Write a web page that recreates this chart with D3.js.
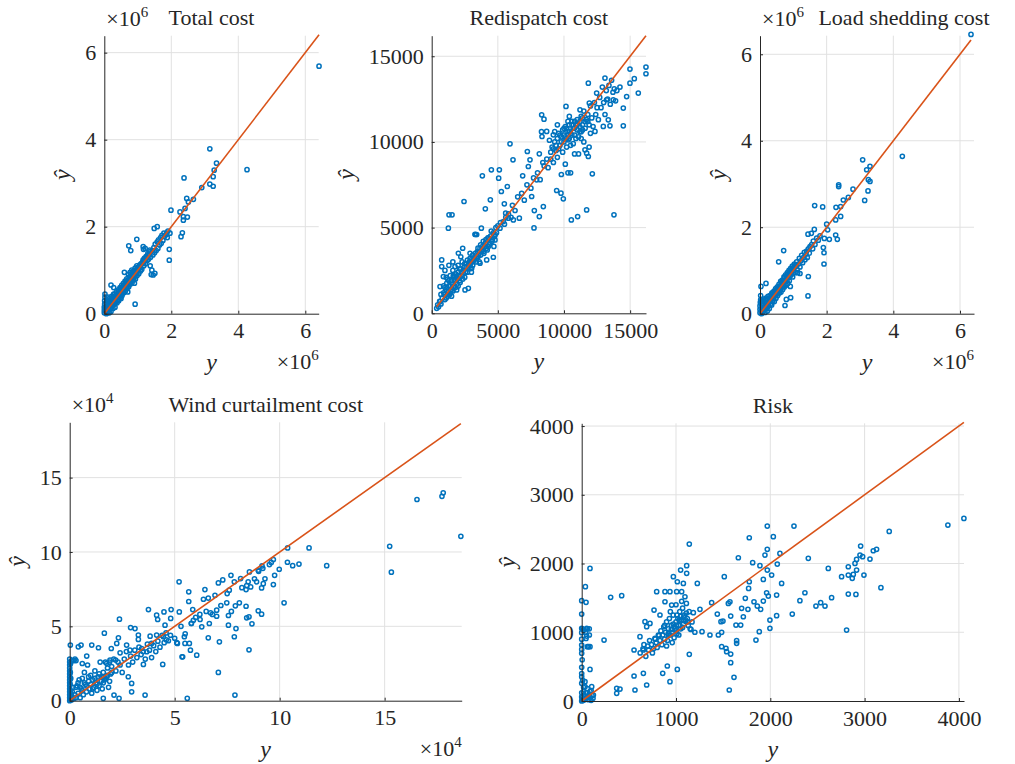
<!DOCTYPE html>
<html lang="en">
<head>
<meta charset="UTF-8">
<title>Predicted vs actual</title>
<script src="https://d3js.org/d3.v7.min.js"></script>
<style>
  body { margin: 0; background: #fff; }
</style>
</head>
<body>
<svg id="chart" width="1015" height="764"></svg>
<script>
// [y, yhat] pairs, in the units shown on each axis (x10^6, x10^4 where marked)
const totalCost = [
  [0,0.02],[0,0.08],[0,0.15],[0.01,0.22],[0.01,0.3],[0.02,0.38],[0.03,0.12],[0.04,0.05],[0.05,0.25],[0.06,0],
  [0.07,0.15],[0.08,0.32],[0.1,0.05],[0.1,0.2],[0.12,0.1],[0.13,0.28],[0.15,0.02],[0.15,0.18],[0.17,0.36],[0.18,0.12],
  [0.2,0.25],[0.2,0.05],[0.22,0.4],[0.23,0.18],[0.25,0.3],[0.26,0.12],[0.28,0.45],[0.3,0.22],[0.3,0.35],[0.32,0.15],
  [0.34,0.42],[0.35,0.3],[0.37,0.5],[0.38,0.25],[0.4,0.38],[0.42,0.55],[0.43,0.3],[0.45,0.45],[0.47,0.6],[0.48,0.38],
  [0.5,0.5],[0.52,0.65],[0.53,0.42],[0.55,0.55],[0.57,0.7],[0.58,0.48],[0.6,0.62],[0.62,0.75],[0.63,0.52],[0.65,0.68],
  [0.67,0.8],[0.68,0.58],[0.7,0.72],[0.72,0.9],[0.73,0.62],[0.75,0.78],[0.77,0.95],[0.78,0.68],[0.8,0.82],[0.82,1.0],
  [0.83,0.72],[0.85,0.88],[0.87,0.98],[0.88,0.78],[0.9,0.92],[0.92,1.05],[0.93,0.8],[0.95,0.95],[0.97,1.1],[0.98,0.88],
  [1.0,1.0],[1.03,0.92],[1.05,1.08],[1.08,0.98],[1.1,1.15],[1.12,1.02],[1.15,1.2],[1.17,1.48],[1.18,1.1],[1.2,1.28],
  [1.22,1.5],[1.23,1.15],[1.25,1.32],[1.28,1.22],[1.3,1.38],[1.32,1.25],[1.35,1.42],[1.37,1.1],[1.38,1.3],[1.4,0.9],
  [1.42,1.0],[1.43,1.45],[1.45,1.35],[1.48,1.52],[1.5,1.4],[1.52,1.6],[1.55,1.45],[1.58,1.65],[1.6,1.5],[1.62,1.7],
  [1.65,1.58],[1.68,1.75],[1.7,1.62],[1.72,1.8],[1.75,1.68],[1.78,1.85],[1.8,1.78],[1.85,1.82],[1.9,1.9],[1.88,1.75],
  [0.02,0.45],[0.05,0.1],[0.08,0.02],[0.11,0.38],[0.14,0.08],[0.16,0.26],[0.19,0.3],[0.21,0.14],[0.24,0.22],[0.27,0.38],
  [0.29,0.28],[0.31,0.45],[0.33,0.26],[0.36,0.4],[0.39,0.46],[0.41,0.32],[0.44,0.52],[0.46,0.4],[0.49,0.58],[0.51,0.44],
  [0.54,0.6],[0.56,0.5],[0.59,0.66],[0.61,0.56],[0.64,0.72],[0.66,0.62],[0.69,0.76],[0.71,0.66],[0.74,0.84],[0.76,0.72],
  [0.79,0.86],[0.81,0.76],[0.84,0.92],[0.86,0.82],[0.89,0.96],[0.91,0.86],[0.94,1.0],[0.96,0.92],[0.99,1.06],[1.02,1.04],
  [1.06,1.12],[1.09,1.06],[1.13,1.16],[1.16,1.24],[1.19,1.2],[1.24,1.26],[1.27,1.3],[1.31,1.34],[1.34,1.36],[1.36,1.46],
  [6.41,5.69],[4.26,3.31],[3.15,3.79],[3.35,3.46],[3.28,3.3],[3.25,3.15],[3.15,2.98],[3.25,2.93],[2.91,2.9],[2.66,2.63],
  [2.46,2.65],[2.51,2.57],[2.41,2.42],[2.26,2.34],[2.36,2.23],[2.48,2.22],[2.36,2.15],[2.38,3.12],[1.99,2.38],[2.33,1.86],
  [2.29,1.77],[1.96,1.85],[1.86,1.85],[1.94,1.48],[1.94,1.23],[1.58,2.0],[1.49,1.96],[0.97,1.71],[0.73,1.56],[0.79,1.45],
  [0.92,0.22],[0.2,0.66],[1.46,0.89],[1.51,0.93],[1.16,1.54],[0.28,0.6],[0.6,0.95],[0.5,0.35],[0.7,0.5],[0.9,0.7]
];

const redispatchCost = [
  [378,292],[450,500],[520,380],[600,700],[630,681],[700,550],[756,3115],[756,2726],[630,1557],[882,2141],
  [1134,1752],[1386,1168],[1889,1363],[2141,2141],[2015,3504],[2343,3797],[2897,3504],[2771,1460],[2519,1363],[3023,2628],
  [3653,2920],[3904,3602],[4282,3894],[4660,3271],[4786,4283],[5164,4965],[5416,5354],[5794,5549],[4156,3115],[3400,3212],
  [1637,2141],[1763,2726],[800,900],[900,1200],[1000,800],[1000,1500],[1100,1300],[1200,1000],[1200,2000],[1300,1600],
  [1400,2200],[1500,1400],[1500,1900],[1600,2500],[1700,1600],[1700,2000],[1800,2300],[1900,1700],[2000,2400],[2000,2800],
  [2100,1900],[2200,2600],[2300,2200],[2300,3000],[2400,2500],[2500,2900],[2500,2100],[2600,2700],[2700,3100],[2700,2400],
  [2800,2800],[2900,3200],[2900,2600],[3000,3000],[3100,3400],[3100,2800],[3200,3100],[3300,3500],[3300,4600],[3400,4600],
  [3500,3300],[3500,3800],[3600,3600],[3700,3400],[3700,4000],[3800,3700],[3900,4200],[4000,3900],[4100,4300],[4200,3700],
  [4300,4400],[4400,4100],[4500,4800],[4600,4300],[4700,3900],[4800,4600],[4900,4700],[5000,5100],[5200,5300],[5500,5200],
  [5600,5600],[5800,5800],[6000,5600],[6100,6300],[6300,6000],
  [1000,1100],[1100,900],[1150,1500],[1250,1250],[1300,1900],[1350,1100],[1400,1600],[1450,1300],[1550,1700],[1600,1300],
  [1650,2200],[1750,1900],[1800,1500],[1850,2100],[1950,2000],[2050,2200],[2100,2600],[2150,1800],[2250,2400],[2350,2000],
  [2450,2700],[2550,2400],[2650,2900],[2750,2600],[2850,3000],[2950,2900],[3050,3200],[3150,3100],[3250,3300],[3350,3000],
  [3450,3600],[3550,3400],[3650,3800],[3750,3600],[3850,3900],[3950,3500],[4050,4100],[4150,3800],[4250,4400],[4350,4000],
  [4450,4500],[4550,4200],[4650,4700],[4750,4500],[4850,5000],[900,1600],[1100,2100],[700,1100],[1000,2500],[1300,2800],
  [1600,3000],[2200,3300],[1500,1000],[2000,1600],[3000,2400],[3600,3000],
  [16198,14370],[16198,13980],[15618,12850],[15316,13690],[14988,14250],[14988,13430],[14736,12650],[14484,11975],[14484,10940],[14232,13200],
  [13779,5745],[13476,10940],[13098,13725],[11713,6035],[11033,5646],[10555,5452],[12142,8138],[11713,9346],[9950,6678],[9773,7009],
  [9446,7165],[8313,11585],[8489,11331],[7733,4984],[7758,5997],[8136,5646],[8439,6230],[5920,9891],[6146,8956],[5114,8372],
  [5063,7886],[4509,8372],[3829,8022],[4433,6620],[4055,6094],[2443,6523],[1310,5744],[1537,5744],[1260,4965],[3275,4614],
  [3753,4965],[5265,7107],[5718,7399],[5491,6386],[5592,5841],[6172,5452],[6626,5549],[7557,6815],[7935,7788],[6877,8022],
  [7305,8567],[7431,8956],[7230,9443],[8136,9306],[8338,10319],[8690,10611],[9194,10416],[10328,10125],[10152,12072],[10404,11487],
  [11210,11877],[11840,13430],[11915,12266],[12469,12850],[11587,9540],[11840,9151],[12343,10611],[12973,10903],[13350,11292],[13224,12461],
  [13728,12461],[6500,6800],[6800,7000],[7000,6600],[7200,7500],[7500,7300],[7700,7900],[8000,8200],[8200,7800],[8400,8800],
  [8500,8600],[8700,9000],[8800,8500],[9000,9400],[9000,9000],[9100,9700],[9200,8800],[9300,10000],[9400,9500],[9500,10200],
  [9500,9100],[9600,10500],[9700,9800],[9800,10300],[9900,10700],[9900,9400],[10000,10000],[10100,10900],[10100,10300],[10200,9700],
  [10300,10600],[10400,11000],[10400,10200],[10500,10500],[10600,11200],[10700,10800],[10700,9900],[10800,10400],[10900,11000],[11000,10700],
  [11000,11300],[11100,10300],[11200,10900],[11300,11500],[11300,10600],[11400,11000],[11500,11800],[11600,10800],[11700,11300],[11800,11600],
  [11900,11000],[12000,12100],[12000,10500],[12100,11400],[12200,10900],[12300,12300],[12400,11600],[12500,12000],[12600,11300],[12700,12600],
  [12800,12000],[12900,13200],[13000,12300],[13100,11600],[13200,13000],[13300,12500],[13400,13300],[13500,12200],[13600,13600],[13700,12900],
  [13800,13100],[13900,12400],[14000,13000],[9800,8100],[10100,8700],[10300,8200],[10500,8200],[10800,9300],[11100,9300],[11500,10000],
  [11900,9700],[9500,11000],[9300,10600],[8900,10100],[8300,10600],
  [9200,9600],[9400,9800],[9600,9600],[9800,10000],[10000,10400],[10200,10200],[10200,10800],[10400,10600],[10600,10400],[10600,11000],
  [10800,10800],[10800,11200],[11000,11000],[11200,11200],[11200,10600],[11400,11400],[11400,10700],[11600,11200],[11800,11200],[10500,9800],
  [10900,10200],[11300,10200],[9700,10400],[10000,10800],[10300,11200]
];

const loadShedCost = [
  [0,0.02],[0,0.1],[0,0.18],[0.01,0.26],[0.02,0.32],[0.03,0.06],[0.04,0.22],[0.05,0],[0.06,0.14],[0.08,0.3],
  [0.09,0.05],[0.1,0.2],[0.12,0.1],[0.13,0.28],[0.15,0.03],[0.16,0.18],[0.18,0.36],[0.19,0.12],[0.21,0.25],[0.22,0.06],
  [0.24,0.4],[0.25,0.18],[0.27,0.3],[0.28,0.12],[0.3,0.42],[0.31,0.22],[0.33,0.35],[0.35,0.2],[0.36,0.48],[0.38,0.3],
  [0.4,0.4],[0.42,0.52],[0.43,0.28],[0.45,0.45],[0.47,0.58],[0.48,0.36],[0.5,0.5],[0.52,0.62],[0.53,0.42],[0.55,0.55],
  [0.57,0.68],[0.58,0.48],[0.6,0.62],[0.62,0.75],[0.63,0.5],[0.65,0.68],[0.67,0.78],[0.68,0.56],[0.7,0.72],[0.72,0.85],
  [0.73,0.62],[0.75,0.78],[0.77,0.9],[0.78,0.66],[0.8,0.82],[0.82,0.95],[0.83,0.7],[0.85,0.88],[0.87,1.0],[0.88,0.76],
  [0.9,0.92],[0.92,1.05],[0.95,0.95],[0.97,1.1],[0.98,0.85],[1.0,1.0],[1.03,1.15],[1.05,0.95],[1.08,1.1],[1.1,1.2],
  [1.12,1.02],[1.15,1.15],[1.18,1.28],[1.2,1.08],[1.22,1.22],[1.25,1.35],[1.28,1.18],[1.3,1.3],[1.33,1.42],[1.35,1.25],
  [1.38,1.38],[1.4,1.45],[1.42,1.3],[1.45,1.5],[1.48,1.4],[1.5,1.55],[1.55,1.6],[1.58,1.5],[1.6,1.68],[1.65,1.6],
  [1.7,1.75],[1.75,1.7],[1.8,1.8],
  [0.02,0.42],[0.05,0.3],[0.07,0.08],[0.11,0.34],[0.14,0.14],[0.17,0.24],[0.2,0.32],[0.23,0.16],[0.26,0.26],[0.29,0.36],
  [0.32,0.28],[0.34,0.44],[0.37,0.36],[0.39,0.46],[0.41,0.34],[0.44,0.5],[0.46,0.42],[0.49,0.56],[0.51,0.46],[0.54,0.6],
  [0.56,0.52],[0.59,0.64],[0.61,0.56],[0.64,0.72],[0.66,0.62],[0.69,0.76],[0.71,0.66],[0.74,0.84],[0.76,0.74],[0.79,0.86],
  [0.81,0.76],[0.84,0.92],[0.86,0.84],[0.89,0.98],[0.91,0.88],[0.94,1.02],[0.96,0.92],[0.99,1.06],[1.02,1.04],[1.06,1.12],
  [6.33,6.46],[4.27,3.64],[3.08,3.56],[3.2,3.33],[3.3,3.41],[3.25,3.1],[3.3,3.06],[3.24,2.84],[3.14,2.62],[2.36,2.98],
  [2.36,2.94],[2.79,2.88],[2.5,2.63],[2.65,2.69],[2.42,2.48],[2.28,2.46],[2.42,2.25],[2.27,2.17],[2.0,2.07],[2.03,1.94],
  [2.27,1.82],[2.32,1.72],[2.08,1.72],[1.93,1.74],[1.9,1.53],[1.92,1.41],[1.92,1.15],[1.64,2.5],[1.88,2.47],[1.63,1.95],
  [1.44,1.84],[1.54,1.86],[0.71,1.46],[0.56,1.2],[1.45,0.86],[1.44,0.41],[0.75,0.19],[0.79,0.33],[0.92,0.37],[0.91,0.63],
  [0.03,0.63],[0.18,0.7],[1.13,0.95],[1.2,0.93]
];

const windCost = [
  [0,0],[0,0.2],[0,0.4],[0,0.6],[0,0.8],[0,1.0],[0,1.2],[0,1.4],[0,1.6],[0,1.8],
  [0,2.0],[0,2.2],[0,2.4],[0,2.6],[0,2.8],[0.05,0.1],[0.05,0.5],[0.05,1.5],[0.1,0.3],[0.1,2.7],
  [0.15,0.9],[0.2,2.7],[0.25,2.8],[0.3,0.2],[0.35,1.0],[0.4,0.5],[0.45,1.4],[0.5,0.2],[0.55,0.8],[0.6,1.5],
  [0.65,0.4],[0.7,1.9],[0.75,1.1],[0.8,0.6],[0.85,2.4],[0.9,1.3],[0.95,0.8],[1.0,1.7],[1.05,0.5],[1.1,1.4],
  [1.15,0.9],[1.2,2.0],[1.25,1.2],[1.3,0.7],[1.35,1.6],[1.4,1.0],[1.45,2.6],[1.5,1.3],[1.55,0.8],[1.6,1.9],
  [1.65,1.4],[1.7,2.6],[1.75,1.6],[1.8,2.2],[1.85,0.9],[1.9,2.6],[1.95,1.8],[2.0,2.3],[2.1,2.8],[2.2,2.0],
  [2.3,2.6],[2.4,2.4],[2.5,1.9],[2.6,2.8],[2.7,3.3],[2.8,2.4],[2.9,3.0],[3.0,2.6],[3.1,3.4],[3.2,2.9],
  [3.3,3.6],[3.4,3.1],[3.5,3.3],[3.6,2.8],[3.7,3.8],[3.8,3.4],[3.9,2.9],[4.0,3.7],[4.1,3.3],[4.2,4.0],
  [4.3,3.6],[4.4,4.4],[4.5,3.9],[4.6,4.1],[4.8,4.4],[5.0,4.2],[5.1,3.9],[5.3,5.0],[5.5,4.5],[5.8,5.2],
  [6.0,5.6],[6.2,5.8],[6.5,6.0],[6.6,6.9],[6.8,5.8],[7.2,6.4],[7.5,7.2],[7.7,6.0],[8.2,7.6],[8.5,8.0],
  [8.8,8.2],[9.0,8.7],[9.2,8.9],[9.3,8.2],[9.6,9.3],
  [0.02,0.1],[0.02,0.3],[0.02,0.7],[0.02,1.1],[0.03,1.9],[0.04,2.5],[0.08,0.05],[0.12,0.6],[0.2,0.15],[0.25,0.4],
  [0.3,0.9],[0.4,1.2],[0.5,0.9],[0.6,0.7],[0.7,1.2],[0.8,1.0],[0.9,1.6],[1.0,1.1],[1.1,0.8],[1.2,1.5],
  [1.3,1.1],[1.4,1.8],[1.5,1.6],[1.6,1.2],[1.7,1.5],[1.8,1.7],[1.9,1.3],[2.0,1.9],[0.3,2.7],[0.6,2.5],
  [18.63,11.05],[17.79,13.98],[17.73,13.74],[16.54,13.53],[15.24,10.38],[15.32,8.64],[12.24,9.08],[11.4,10.27],[10.92,9.19],[10.62,9.08],
  [10.38,10.27],[10.37,9.31],[10.21,6.58],[9.98,8.84],[9.76,8.43],[9.7,7.81],[9.7,9.49],[9.51,9.15],[9.22,7.87],[9.14,7.58],
  [9.16,9.06],[8.98,8.77],[8.9,7.99],[9.14,5.82],[8.98,6.04],[8.68,5.17],[8.54,5.64],[8.43,5.57],[8.54,3.42],[8.56,8.66],
  [8.43,7.74],[8.4,7.47],[8.62,7.65],[8.4,6.35],[8.08,6.58],[7.89,6.38],[7.92,4.85],[7.84,4.3],[7.87,0.38],[7.68,8.43],
  [7.84,7.99],[8.14,8.21],[7.6,7.43],[7.56,5.73],[7.56,5.08],[7.48,6.58],[7.29,8.12],[7.08,7.92],[6.92,7.09],[7.0,6.09],
  [7.0,5.68],[7.13,3.96],[7.08,1.9],[6.71,5.91],[6.6,4.23],[6.65,5.19],[6.44,7.47],[6.37,6.82],[6.29,4.97],[6.05,3.06],
  [6.21,5.46],[5.89,5.41],[5.86,6.13],[5.75,3.4],[5.67,7.32],[5.67,6.67],[5.7,3.85],[5.79,5.19],[5.6,0.16],[5.46,4.3],
  [5.49,3.85],[5.38,2.95],[5.21,7.99],[5.22,5.97],[5.35,2.95],[5.13,3.85],[4.7,4.03],[4.81,5.53],[4.83,6.13],[4.59,4.56],
  [4.46,4.3],[4.43,2.44],[4.54,5.08],[4.49,5.97],[4.14,5.75],[4.19,5.46],[4.14,4.41],[3.75,6.13],[3.83,4.34],[3.9,3.85],
  [3.67,3.29],[3.59,0.38],[3.51,2.44],[3.43,3.51],[3.27,4.41],[3.27,4.12],[3.11,4.85],[2.9,4.92],[2.87,3.4],[2.79,1.61],
  [2.95,1.16],[2.95,0.6],[2.71,3.74],[2.4,3.22],[2.37,5.48],[2.32,4.23],[2.24,3.85],[2.19,2.73],[2.35,0.16],[2.11,0.38],
  [1.98,3.51],[1.92,2.73],[1.65,4.54],[1.76,2.51],[1.6,1.57],[1.6,0.16],[1.37,3.56],[0.81,3.0],[1.05,3.74],[0.54,3.74],
  [0.41,3.62],[0.03,3.74]
];

const riskVals = [
  [4053,2656],[3883,2559],[3261,2467],[3127,2206],[3092,2186],[3057,2065],[2993,1832],[2979,2099],[2958,2254],[2951,2123],
  [2915,2060],[2898,2002],[2915,1905],[2880,1842],[2869,1784],[2827,1953],[2827,1832],[2756,1808],[2908,1551],[2827,1556],
  [2809,1032],[3173,1648],[2650,1503],[2615,1929],[2580,1381],[2534,1430],[2484,1381],[2403,2075],[2367,1575],[2314,1459],
  [2233,1265],[2251,2545],[2102,2147],[2120,1711],[2074,1992],[2067,1541],[2067,1241],[2032,2390],[2014,1832],[1996,1057],
  [1996,1178],[1968,2545],[1968,2206],[1968,1905],[1961,1575],[1979,1527],[1943,2123],[1926,1769],[1926,1454],[1898,1333],
  [1890,1968],[1883,1008],[1862,1381],[1848,887],[1827,1444],[1813,2012],[1777,1735],[1777,2375],[1770,1638],[1763,1333],
  [1735,1493],[1714,1226],[1696,1348],[1686,1105],[1661,2084],[1636,1105],[1643,877],[1643,839],[1615,344],[1580,683],
  [1580,557],[1565,160],[1572,1444],[1555,1420],[1580,1236],[1537,717],[1530,766],[1484,790],[1512,1808],[1498,1163],
  [1477,1154],[1484,999],[1438,1265],[1449,960],[1360,960],[1378,1430],[1276,1008],[1254,1333],[1226,1711],[1184,1285],
  [1159,1042],[1141,2283],[1141,679],[1113,1968],[1113,1857],[1095,1517],[1078,1711],[1060,1590],[1049,1905],[1035,1178],
  [1014,1735],[1007,1590],[1014,460],[1007,1105],[972,1808],[954,1396],[936,1590],[919,984],[908,509],[936,281],
  [883,1444],[883,1590],[859,402],[830,1251],[813,960],[795,1590],[767,1323],[777,911],[724,1129],[689,1081],
  [671,1154],[689,233],[654,742],[654,402],[618,936],[565,160],[555,364],[555,742],[424,1532],[307,1508],
  [237,887],[371,184],[371,111],[406,174],[88,1929],[39,1663],[46,1435],[0,1459],[0,1265],[0,1057],
  [0,994],[0,814],[0,693],[0,490],[0,354],[0,257],[18,136],[53,1057],[46,911],[60,790],
  [71,790],[88,790],[81,960],[88,460],[53,945],[25,1032],[35,281],[35,208],[106,208],[88,136],
  [124,87],[71,63],[35,39],[0,0],[5,20],[10,50],[20,10],[30,80],[40,30],[50,120],
  [60,60],[70,20],[80,100],[90,50],[100,150],[110,80],[120,40],[100,10],[60,180],[20,200],
  [0,120],[0,60],[10,300],[0,400],[5,600],[0,750],[0,900],[5,1050],[60,1050],[80,1050],
  [40,1000],[20,1040],
  [620,700],[650,760],[660,820],[680,650],[700,800],[710,740],[720,880],[740,820],[750,700],[760,760],
  [780,900],[790,850],[800,780],[820,950],[830,880],[840,1020],[850,820],[860,960],[870,1080],[880,900],
  [890,1000],[900,1150],[910,880],[920,1050],[930,1200],[940,960],[950,1100],[960,1000],[970,1250],[980,920],
  [990,1050],[1000,1150],[1010,980],[1020,1200],[1030,1100],[1040,1300],[1050,1050],[1060,1180],[1070,1350],[1080,1120],
  [1090,1250],[1100,1160],[1110,1420],[1120,1200],[1130,1100],[1140,1300],[1150,1050],[1170,1150],[1200,1000],[880,1100],
  [940,1300],[1000,1400],[1060,1450],[1030,960],[960,850],[900,800],[980,1080],[1050,1230],[1100,1180],
  [950,1040],[1000,1020],[1040,1160],[1080,1220],[1120,1150],[920,960],[970,1120],[1010,1250],[1070,1070],[1110,1280]
];

const costTicks = [0, 2, 4, 6];
const redispatchTicks = [0, 5000, 10000, 15000];
const windTicks = [0, 5, 10, 15];
const riskTicks = [0, 1000, 2000, 3000, 4000];
const titles = ['Total cost', 'Redispatch cost', 'Load shedding cost', 'Wind curtailment cost', 'Risk'];

const svg = d3.select('#chart');
const blue = '#0072BD', orange = '#D95319', ink = '#262626';
const serif = '"Liberation Serif", "Times New Roman", serif';

// box = [left, top, right, bottom] of each axes in px
const panels = [
  { title: titles[0], pts: totalCost, xMax: 6.4, yMax: 6.39, xt: costTicks, yt: costTicks, exp: '6', box: [104.3, 35.7, 318.7, 313.7] },
  { title: titles[1], pts: redispatchCost, xMax: 16200, yMax: 16200, xt: redispatchTicks, yt: redispatchTicks, exp: null, box: [431.7, 35.7, 646, 313.3] },
  { title: titles[2], pts: loadShedCost, xMax: 6.42, yMax: 6.43, xt: costTicks, yt: costTicks, exp: '6', box: [760, 35.7, 974, 313.7] },
  { title: titles[3], pts: windCost, xMax: 18.67, yMax: 18.72, xt: windTicks, yt: windTicks, exp: '4', box: [69.7, 422.3, 461.7, 700.7] },
  { title: titles[4], pts: riskVals, xMax: 4054, yMax: 4040, xt: riskTicks, yt: riskTicks, exp: null, box: [581.7, 423.3, 964, 701] }
];

function txt(g, size) {
  return g.append('text').attr('font-family', serif).style('font-family', serif)
    .attr('fill', ink).style('font-size', size + 'px');
}

function expLabel(g, x, y, anchor, e) {
  const t = txt(g, 22).attr('x', x).attr('y', y).attr('text-anchor', anchor);
  t.append('tspan').text('\u00d710');
  t.append('tspan').attr('dy', -9).style('font-size', '15px').text(e);
  return t;
}

panels.forEach(p => {
  const [x0, y0, x1, y1] = p.box;
  const x = d3.scaleLinear().domain([0, p.xMax]).range([x0, x1]);
  const y = d3.scaleLinear().domain([0, p.yMax]).range([y1, y0]);
  const g = svg.append('g');

  // grid
  g.selectAll('.gx').data(p.xt.filter(d => d > 0)).join('line')
    .attr('x1', d => x(d)).attr('x2', d => x(d)).attr('y1', y0).attr('y2', y1)
    .attr('stroke', '#e1e1e1').attr('stroke-width', 1);
  g.selectAll('.gy').data(p.yt.filter(d => d > 0)).join('line')
    .attr('y1', d => y(d)).attr('y2', d => y(d)).attr('x1', x0).attr('x2', x1)
    .attr('stroke', '#e1e1e1').attr('stroke-width', 1);

  // scatter
  g.selectAll('circle').data(p.pts).join('circle')
    .attr('cx', d => x(d[0])).attr('cy', d => y(d[1])).attr('r', 2.1)
    .attr('fill', 'none').attr('stroke', blue).attr('stroke-width', 1.5);

  // y = x reference line over the range of y
  const ext = d3.extent(p.pts, d => d[0]);
  g.append('line')
    .attr('x1', x(ext[0])).attr('y1', y(ext[0])).attr('x2', x(ext[1])).attr('y2', y(ext[1]))
    .attr('stroke', orange).attr('stroke-width', 1.6);

  // axes
  const xa = g.append('g').attr('transform', `translate(0,${y1})`)
    .call(d3.axisBottom(x).tickValues(p.xt).tickSize(-3).tickSizeOuter(0).tickPadding(9).tickFormat(d3.format('d')));
  const ya = g.append('g').attr('transform', `translate(${x0},0)`)
    .call(d3.axisLeft(y).tickValues(p.yt).tickSize(-3).tickSizeOuter(0).tickPadding(8).tickFormat(d3.format('d')));
  [xa, ya].forEach(a => {
    a.attr('font-family', serif).attr('font-size', 22);
    a.select('.domain').attr('stroke', ink).attr('stroke-width', 1);
    a.selectAll('.tick line').attr('stroke', ink);
    a.selectAll('text').attr('fill', ink).style('font-size', '22px').style('font-family', serif);
  });

  // axis labels
  let maxW = 0;
  ya.selectAll('text').each(function () { maxW = Math.max(maxW, this.getComputedTextLength()); });
  txt(g, 24).attr('x', (x0 + x1) / 2).attr('y', y1 + 56).attr('text-anchor', 'middle')
    .style('font-style', 'italic').text('y');
  txt(g, 24).attr('transform', `translate(${x0 - maxW - 23},${(y0 + y1) / 2}) rotate(-90)`)
    .attr('text-anchor', 'middle').style('font-style', 'italic').text('\u0177');

  // exponent labels and title
  let expRight = -Infinity;
  if (p.exp) {
    expLabel(g, x1, y1 + 55, 'end', p.exp);
    const t = expLabel(g, x0 + 2, y0 - 10, 'start', p.exp);
    const bb = t.node().getBBox();
    expRight = bb.x + bb.width;
  }
  const title = txt(g, 22).attr('y', y0 - 10.5).attr('text-anchor', 'middle').text(p.title);
  const w = title.node().getComputedTextLength();
  title.attr('x', Math.max((x0 + x1) / 2, expRight + 14 + w / 2));
});
</script>
</body>
</html>
